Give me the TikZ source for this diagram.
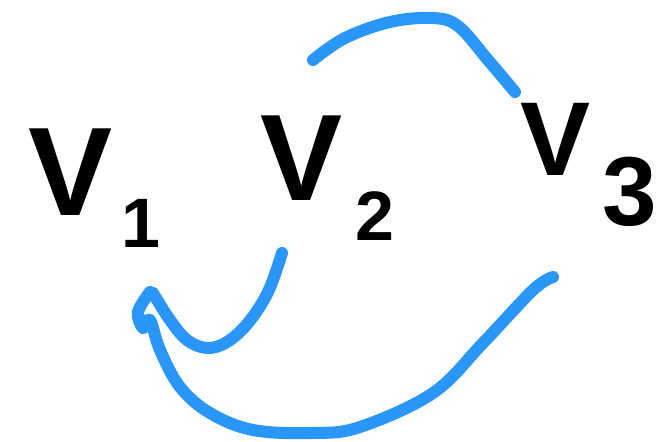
\documentclass[tikz,border=0pt]{standalone}
\usepackage{fontspec}
\setmainfont{Liberation Sans}
\definecolor{strokeblue}{RGB}{41,150,250}
\begin{document}
\begin{tikzpicture}[x=1pt,y=-1pt,
  letter/.style={inner sep=0pt,anchor=base,font=\bfseries},
  stroke/.style={draw=strokeblue,line width=12pt,line cap=round,line join=round}]
\useasboundingbox (0,0) rectangle (662,442);
% labels
\node[letter,font=\bfseries\fontsize{126}{126}\selectfont] (v1) at (71,215) {V};
\node[letter,font=\bfseries\fontsize{70}{70}\selectfont] (s1) at (141,247) {1};
\node[letter,font=\bfseries\fontsize{123}{123}\selectfont] (v2) at (302,200) {V};
\node[letter,font=\bfseries\fontsize{70}{70}\selectfont] (s2) at (375,240) {2};
\node[letter,font=\bfseries\fontsize{105}{105}\selectfont] (v3) at (556,175) {V};
\node[letter,font=\bfseries\fontsize{98}{98}\selectfont] (s3) at (630,225) {3};
% connectors
\coordinate (a1) at (313,60);
\coordinate (a2) at (515,92);
\draw[stroke] plot[smooth,tension=0.6] coordinates {(a1) (345,38) (390,22) (432,18) (458,26) (488,60) (a2)};
\coordinate (b1) at (282,253);
\coordinate (b2) at (153,293);
\draw[stroke] plot[smooth,tension=0.6] coordinates {(b1) (268,292) (248,323) (227,342) (207,348) (187,340) (170,320) (b2)};
\coordinate (c1) at (150,292);
\coordinate (c2) at (553,277);
\draw[stroke] plot[smooth,tension=0.6] coordinates {(c1) (138,312) (143,328) (150,320) (160,350) (180,387) (210,413) (253,430) (313,433) (360,427) (433,393) (483,343) (533,290) (c2)};
\end{tikzpicture}
\end{document}
